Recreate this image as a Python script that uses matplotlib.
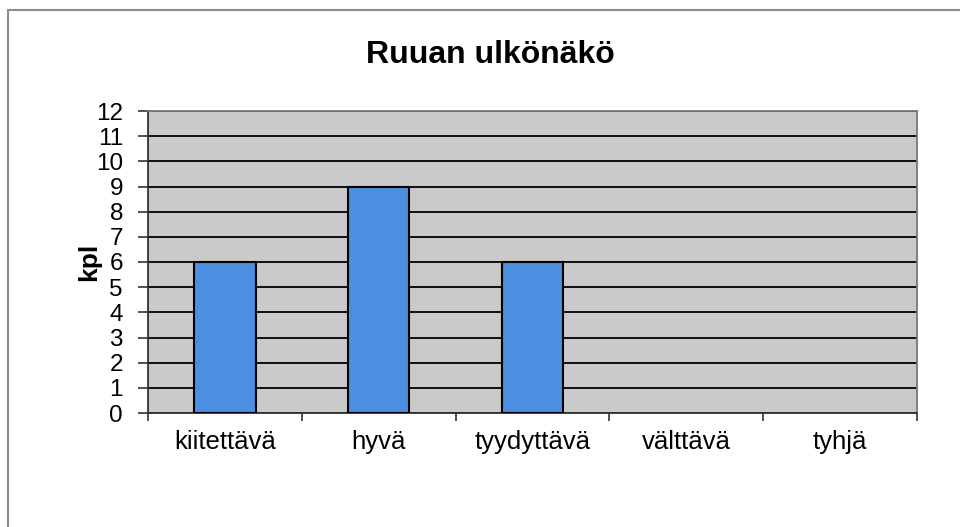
import numpy as np
import matplotlib.pyplot as plt
from matplotlib.lines import Line2D

# data
categories = ["kiitettävä", "hyvä", "tyydyttävä", "välttävä", "tyhjä"]
counts = [6, 9, 6, 0, 0]
yticks = list(range(0, 13))

plt.rcParams['font.family'] = ['Liberation Sans', 'DejaVu Sans']

fig = plt.figure(figsize=(9.6, 5.27), dpi=100)
fig.patch.set_facecolor("white")

# outer chart frame (only top and left edges visible)
fig.add_artist(Line2D([8/960, 1], [1 - 10/527, 1 - 10/527], color="#8c8c8c", lw=1.5))
fig.add_artist(Line2D([8/960, 8/960], [0, 1 - 10/527], color="#8c8c8c", lw=1.5))

ax = fig.add_axes([148/960, 1 - 413/527, (917 - 148)/960, (413 - 111)/527])
ax.set_facecolor("#cacaca")

x = np.arange(len(categories))
edge_w = [1.5 if c > 0 else 0 for c in counts]
ax.bar(x, counts, width=0.4, color="#4b90e0", edgecolor="black", linewidth=edge_w, zorder=3)

ax.set_xlim(-0.5, len(categories) - 0.5)
ax.set_ylim(0, 12)
ax.set_yticks(yticks)
ax.set_yticklabels([str(v) for v in yticks], fontsize=17.5)
ax.yaxis.grid(True, color="black", linewidth=1.3, zorder=1)
ax.set_axisbelow(True)

# category labels in the middle, ticks at the boundaries
ax.set_xticks(x)
ax.set_xticklabels(categories, fontsize=18.5)
ax.tick_params(axis="x", which="major", length=0, pad=12)
ax.set_xticks(np.arange(-0.5, len(categories)), minor=True)
ax.tick_params(axis="x", which="minor", length=6, width=1.2, color="#333333", direction="out")
ax.tick_params(axis="y", length=7, width=1.2, color="#333333", direction="out", pad=11)

for side in ["left", "bottom"]:
    ax.spines[side].set_color("#333333")
    ax.spines[side].set_linewidth(1.3)
for side in ["top", "right"]:
    ax.spines[side].set_color("#7a7a7a")
    ax.spines[side].set_linewidth(1.3)

ax.set_ylabel("kpl", fontsize=19, fontweight="bold", va="center")
ax.yaxis.set_label_coords(-0.076, 0.5)
fig.text(490/960, 1 - 55/527, "Ruuan ulkönäkö", fontsize=23, fontweight="bold",
         ha="center", va="center")

fig.savefig("out.png", dpi=100)
